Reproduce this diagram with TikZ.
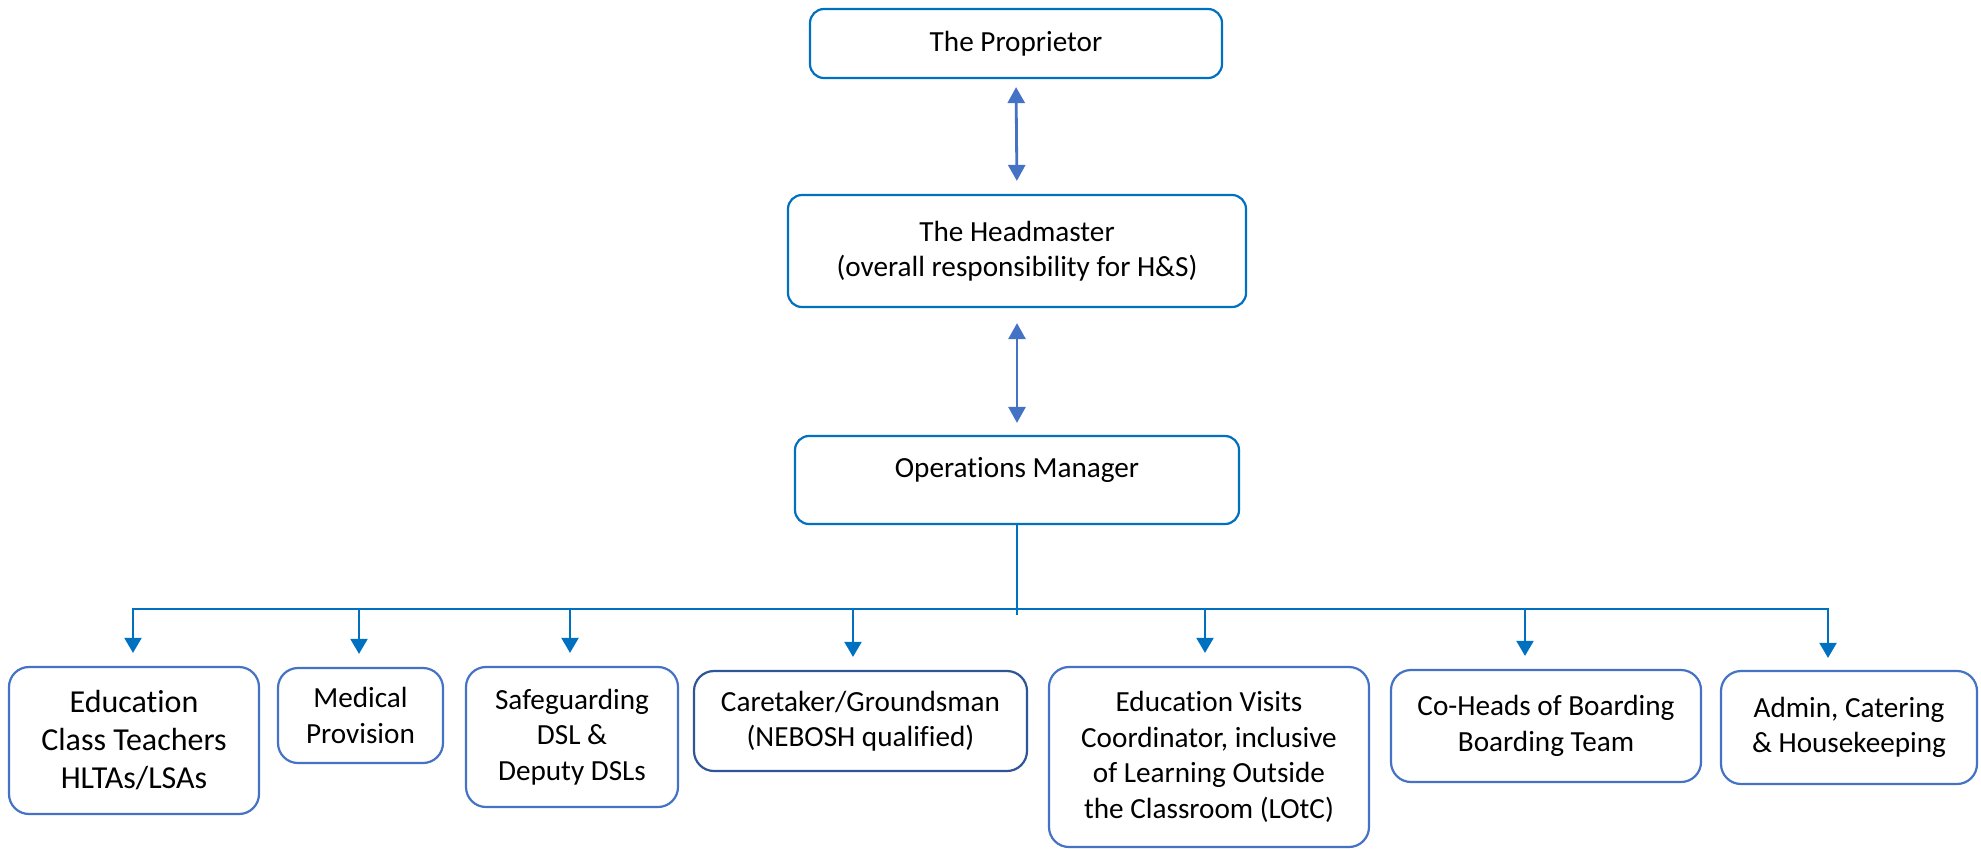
\documentclass[tikz,border=0pt]{standalone}
\usepackage{fontspec}
\setmainfont{Carlito}[Ligatures=NoCommon]
\usetikzlibrary{arrows.meta,positioning}
\definecolor{topblue}{HTML}{0070C0}
\definecolor{linkblue}{HTML}{4472C4}
\definecolor{navyblue}{HTML}{2F5597}
\tikzset{top box/.style={draw=topblue,line width=1.1pt,rounded corners=7pt,align=center,inner sep=0pt,
                         font=\fontsize{14.6}{17.6}\selectfont},
         staff box/.style={draw=linkblue,line width=1.1pt,rounded corners=10pt,align=center,inner sep=0pt,
                           font=\fontsize{14.6}{17.8}\selectfont},
         two way/.style={{Triangle[width=8.5pt,length=8pt]}-{Triangle[width=8.5pt,length=8pt]},
                         draw=linkblue,line width=1.4pt},
         tree line/.style={draw=topblue,line width=1pt},
         tree arrow/.style={tree line,-{Triangle[width=8.5pt,length=7.5pt]},shorten >=6.5pt}
}

\begin{document}
\begin{tikzpicture}[x=0.5pt,y=-0.5pt]
\useasboundingbox (0,0) rectangle (1981,848);

% top of the chain
\node[top box,minimum width=206pt,minimum height=34.5pt] (prop) at (1016,43.5) {The Proprietor};
\node[top box,minimum width=229pt,minimum height=56pt] (head) at (1017,251)
    {The Headmaster\\(overall responsibility for H\&S)};
\node[top box,minimum width=222pt,minimum height=44pt,text depth=12.7pt] (ops) at (1017,480)
    {Operations Manager};

\draw[two way,shorten <=4pt,shorten >=6.5pt] (prop.south) -- (head.north);
\draw[two way,shorten <=7.5pt,shorten >=6pt] (head.south) -- (ops.north);

% staff boxes
\node[staff box,minimum width=125pt,minimum height=73.5pt,font=\fontsize{16}{19}\selectfont] (edu) at (134,740.5)
    {Education\\Class Teachers\\HLTAs/LSAs};
\node[staff box,minimum width=82.5pt,minimum height=47.5pt] (med) at (360.5,715.5) {Medical\\Provision};
\node[staff box,minimum width=106pt,minimum height=70pt] (safe) at (572,737) {Safeguarding\\DSL \&\\Deputy DSLs};
\node[staff box,draw=navyblue,minimum width=166.5pt,minimum height=50pt] (care) at (860.5,721)
    {Caretaker/Groundsman\\(NEBOSH qualified)};
\node[staff box,minimum width=160pt,minimum height=90pt] (visit) at (1209,757)
    {Education Visits\\Coordinator, inclusive\\of Learning Outside\\the Classroom (LOtC)};
\node[staff box,minimum width=155pt,minimum height=56pt] (board) at (1546,726)
    {Co-Heads of Boarding\\Boarding Team};
\node[staff box,minimum width=128pt,minimum height=56.5pt] (admin) at (1849,727.5)
    {Admin, Catering\\\& Housekeeping};

% bus from the operations manager
\coordinate (b1) at (133,609);
\coordinate (b2) at (359,609);
\coordinate (b3) at (570,609);
\coordinate (b4) at (853,609);
\coordinate (b5) at (1205,609);
\coordinate (b6) at (1525,609);
\coordinate (b7) at (1828,609);
\coordinate (stem) at (1014,615);

\draw[tree line] (ops.south) -- (ops.south |- stem);
\draw[tree line,{Triangle[width=8.5pt,length=7.5pt]}-{Triangle[width=8.5pt,length=7.5pt]},
      shorten <=6.5pt,shorten >=6pt]
    (b1 |- edu.north) -- (b1) -- (b7) -- (b7 |- admin.north);
\foreach \i/\staff in {2/med,3/safe,4/care,5/visit,6/board}
    \draw[tree arrow] (b\i) -- (b\i |- \staff.north);
\end{tikzpicture}
\end{document}
